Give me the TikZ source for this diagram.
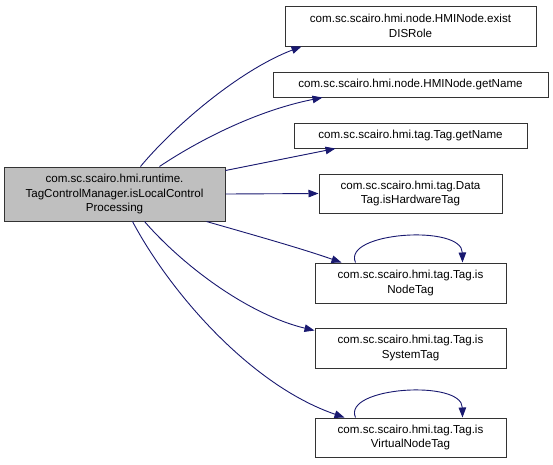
\documentclass[tikz,border=0pt]{standalone}
\usepackage{fontspec}
\setmainfont{Liberation Sans}
\usetikzlibrary{arrows.meta}
\definecolor{edgecol}{HTML}{191970}
\definecolor{mainfill}{HTML}{BFBFBF}
\tikzset{
  fn/.style={draw=black!80, line width=1pt, fill=white, rectangle, align=center, inner sep=1pt,
    font=\fontsize{11.6}{14.5}\selectfont},
  mainfn/.style={fn, fill=mainfill},
  call/.style={draw=edgecol, line width=0.9pt, -{Triangle[length=10pt,width=7.5pt]}},
}
\begin{document}
\begin{tikzpicture}[x=1pt,y=-1pt]
\useasboundingbox (0,0) rectangle (553,464);
\node[mainfn, minimum width=221pt, minimum height=54pt] (m) at (114.5,194) {com.sc.scairo.hmi.runtime.\\TagControlManager.isLocalControl\\Processing};
\node[fn, minimum width=251pt, minimum height=40pt] (n1) at (410.5,26) {com.sc.scairo.hmi.node.HMINode.exist\\DISRole};
\node[fn, minimum width=275pt, minimum height=25pt] (n2) at (410.5,84.5) {com.sc.scairo.hmi.node.HMINode.getName};
\node[fn, minimum width=233pt, minimum height=25pt] (n3) at (410.5,135.5) {com.sc.scairo.hmi.tag.Tag.getName};
\node[fn, minimum width=183pt, minimum height=39pt] (n4) at (410.5,193.5) {com.sc.scairo.hmi.tag.Data\\Tag.isHardwareTag};
\node[fn, minimum width=191pt, minimum height=40pt] (n5) at (410.5,283) {com.sc.scairo.hmi.tag.Tag.is\\NodeTag};
\node[fn, minimum width=191pt, minimum height=40pt] (n6) at (410.5,348) {com.sc.scairo.hmi.tag.Tag.is\\SystemTag};
\node[fn, minimum width=191pt, minimum height=39pt] (n7) at (410.5,437.5) {com.sc.scairo.hmi.tag.Tag.is\\VirtualNodeTag};
% edges
\draw[call] (m.north west) ++(137,0) coordinate (s1) .. controls (175,125) and (240,70) .. ([xshift=17pt]n1.south west);
\draw[call] (m.north west) ++(156,0) coordinate (s2) .. controls (190,146) and (250,112) .. ([xshift=50pt]n2.south west);
\draw[call] ([yshift=-4pt]m.north east) -- ([xshift=42pt]n3.south west);
\draw[call] (m.east) -- (n4.west);
\draw[call] (m.south west) ++(203,0) coordinate (s5) .. controls (250,234) and (300,248) .. ([xshift=27pt]n5.north west);
\draw[call] (m.south west) ++(141,0) coordinate (s6) .. controls (185,268) and (250,315) .. ([yshift=-3pt]n6.north west);
\draw[call] (m.south west) ++(129,0) coordinate (s7) .. controls (170,292) and (250,385) .. ([xshift=30pt]n7.north west);
% self loops
\draw[call] ([xshift=41pt]n5.north west) .. controls (342,232) and (462,224) .. ([xshift=148pt]n5.north west);
\draw[call] ([xshift=41pt]n7.north west) .. controls (342,387) and (462,379) .. ([xshift=148pt]n7.north west);
\end{tikzpicture}
\end{document}
